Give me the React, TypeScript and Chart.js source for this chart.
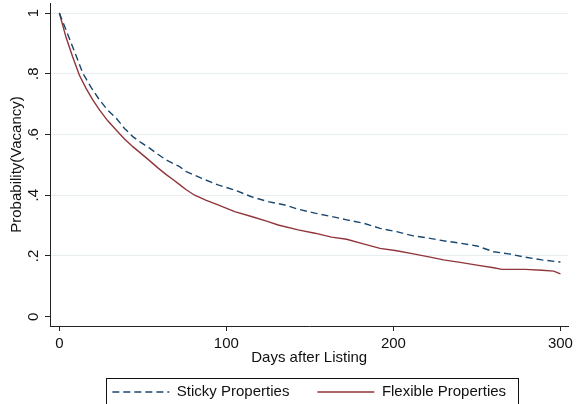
import React, { useEffect, useRef } from "react";
import { Chart, registerables } from "chart.js";

Chart.register(...registerables);

// ---- data ----
const stickyDays = [0, 5, 10, 14, 19, 24, 29, 34, 39, 44, 49, 54, 59, 64, 72, 76, 85, 95, 105, 115, 125, 135, 143, 153, 163, 172, 182, 192, 202, 212, 220, 230, 240, 250, 260, 269, 279, 289, 300];
const stickyValues = [1.0, 0.93, 0.86, 0.802, 0.755, 0.714, 0.68, 0.654, 0.62, 0.593, 0.573, 0.555, 0.535, 0.516, 0.494, 0.478, 0.456, 0.434, 0.417, 0.395, 0.379, 0.368, 0.354, 0.341, 0.33, 0.319, 0.308, 0.291, 0.28, 0.266, 0.26, 0.25, 0.242, 0.233, 0.214, 0.207, 0.196, 0.187, 0.18];

const flexibleDays = [0, 4, 8, 12, 16, 20, 24, 29, 34, 39, 44, 49, 54, 59, 64, 68, 72, 76, 81, 88, 95, 105, 115, 125, 131, 143, 153, 163, 172, 182, 192, 202, 212, 222, 230, 240, 250, 260, 265, 279, 289, 296, 300];
const flexibleValues = [1.0, 0.92, 0.855, 0.795, 0.752, 0.714, 0.681, 0.645, 0.615, 0.585, 0.56, 0.537, 0.514, 0.49, 0.468, 0.452, 0.435, 0.418, 0.4, 0.383, 0.368, 0.346, 0.33, 0.313, 0.302, 0.286, 0.275, 0.262, 0.255, 0.24, 0.225, 0.217, 0.207, 0.196, 0.187, 0.179, 0.17, 0.161, 0.156, 0.156, 0.153, 0.15, 0.141];

const seriesNames = ["Sticky Properties", "Flexible Properties"];
const xTicks = [0, 100, 200, 300];
const yTicks = [0, 0.2, 0.4, 0.6, 0.8, 1];
const yTickLabels = ["0", ".2", ".4", ".6", ".8", "1"];
const xTitle = "Days after Listing";
const yTitle = "Probability(Vacancy)";

const FONT = "'Liberation Sans', Arial, Helvetica, sans-serif";
const AXIS = "#222222";
const GRID = "#e6eef0";
const TEXT = "#111111";
const LINE_W = 1.4;

// Stata-style rotated y tick labels, positioned by the y scale
const yLabels = {
  id: "yLabels",
  afterDraw(chart: any) {
    const s = chart.scales.y;
    const ctx = chart.ctx;
    ctx.save();
    ctx.font = `15px ${FONT}`;
    ctx.fillStyle = TEXT;
    ctx.textAlign = "center";
    ctx.textBaseline = "middle";
    const cx = s.right - 5 - 11.5;
    yTicks.forEach((v, i) => {
      const py = s.getPixelForValue(v);
      ctx.save();
      ctx.translate(cx, py);
      ctx.rotate(-Math.PI / 2);
      ctx.fillText(yTickLabels[i], 0, 0);
      ctx.restore();
    });
    ctx.restore();
  },
};

const legendBorder = {
  id: "legendBorder",
  afterDraw(chart: any) {
    const lg = chart.legend;
    if (!lg || !lg.legendHitBoxes || !lg.legendHitBoxes.length) return;
    const hb = lg.legendHitBoxes;
    const first = hb[0];
    const last = hb[hb.length - 1];
    const cy = first.top + first.height / 2;
    const ctx = chart.ctx;
    ctx.save();
    ctx.strokeStyle = "#111";
    ctx.lineWidth = 1;
    const l = Math.round(first.left - 6) + 0.5;
    const r = Math.round(last.left + last.width + 12) + 0.5;
    const t = Math.round(cy - 14) + 0.5;
    const b = Math.round(cy + 13) + 0.5;
    ctx.strokeRect(l, t, r - l, b - t);
    ctx.restore();
  },
};

export default function App() {
  const ref = useRef<HTMLCanvasElement | null>(null);

  useEffect(() => {
    document.body.style.margin = "0";
    const canvas = ref.current;
    if (!canvas) return;
    const chart = new Chart(canvas, {
      type: "line",
      data: {
        datasets: [
          {
            label: seriesNames[0],
            data: stickyDays.map((d, i) => ({ x: d, y: stickyValues[i] })),
            borderColor: "#1a476f",
            backgroundColor: "#1a476f",
            borderWidth: LINE_W,
            borderDash: [7, 4],
            pointRadius: 0,
            tension: 0,
            fill: false,
          },
          {
            label: seriesNames[1],
            data: flexibleDays.map((d, i) => ({ x: d, y: flexibleValues[i] })),
            borderColor: "#90353b",
            backgroundColor: "#90353b",
            borderWidth: LINE_W,
            pointRadius: 0,
            tension: 0,
            fill: false,
          },
        ],
      },
      options: {
        responsive: false,
        animation: false,
        devicePixelRatio: 1,
        layout: { padding: { top: 3, right: 4, left: 0, bottom: -5.5 } },
        plugins: {
          tooltip: { enabled: false },
          legend: {
            position: "bottom",
            fullSize: false,
            labels: {
              usePointStyle: true,
              pointStyle: "line",
              pointStyleWidth: 57,
              boxWidth: 57,
              padding: 28,
              color: TEXT,
              font: { family: FONT, size: 15 },
              generateLabels: (chart: any) => {
                const items = (Chart as any).defaults.plugins.legend.labels.generateLabels(chart);
                return items.map((it: any) => {
                  const ds = chart.data.datasets[it.datasetIndex];
                  return {
                    ...it,
                    lineDash: ds.borderDash || [],
                    lineWidth: LINE_W,
                    strokeStyle: ds.borderColor,
                    fillStyle: ds.borderColor,
                    pointStyle: "line",
                  };
                });
              },
            },
          },
        },
        scales: {
          x: {
            type: "linear",
            min: -5.6,
            max: 304.8,
            afterBuildTicks: (s: any) => {
              s.ticks = xTicks.map((v) => ({ value: v }));
            },
            afterFit: (s: any) => {
              s.height = 30.5;
            },
            grid: {
              display: true,
              drawOnChartArea: false,
              drawTicks: true,
              tickLength: 5,
              tickColor: AXIS,
              color: AXIS,
            },
            border: { display: true, color: AXIS, width: 1 },
            ticks: {
              color: TEXT,
              padding: 4,
              maxRotation: 0,
              font: { family: FONT, size: 15 },
              callback: (v: any) => String(v),
            },
            title: {
              display: true,
              text: xTitle,
              color: TEXT,
              font: { family: FONT, size: 15 },
              padding: { top: 0, bottom: -10.5 },
            },
          },
          y: {
            type: "linear",
            min: -0.0306,
            max: 1.033,
            afterBuildTicks: (s: any) => {
              s.ticks = yTicks.map((v) => ({ value: v }));
            },
            afterFit: (s: any) => {
              s.width = 50;
            },
            grid: {
              display: true,
              drawOnChartArea: true,
              drawTicks: true,
              tickLength: 5,
              tickColor: AXIS,
              color: (c: any) => (c.tick && c.tick.value === 0 ? "rgba(0,0,0,0)" : GRID),
              lineWidth: 1,
            },
            border: { display: true, color: AXIS, width: 1 },
            ticks: {
              display: false,
            },
            title: {
              display: true,
              text: yTitle,
              color: TEXT,
              font: { family: FONT, size: 15 },
              padding: { top: 8, bottom: 0 },
            },
          },
        },
      },
      plugins: [yLabels, legendBorder],
    } as any);
    return () => chart.destroy();
  }, []);

  return (
    <div style={{ width: 577, height: 404, background: "#fff" }}>
      <canvas ref={ref} width={577} height={404} />
    </div>
  );
}
